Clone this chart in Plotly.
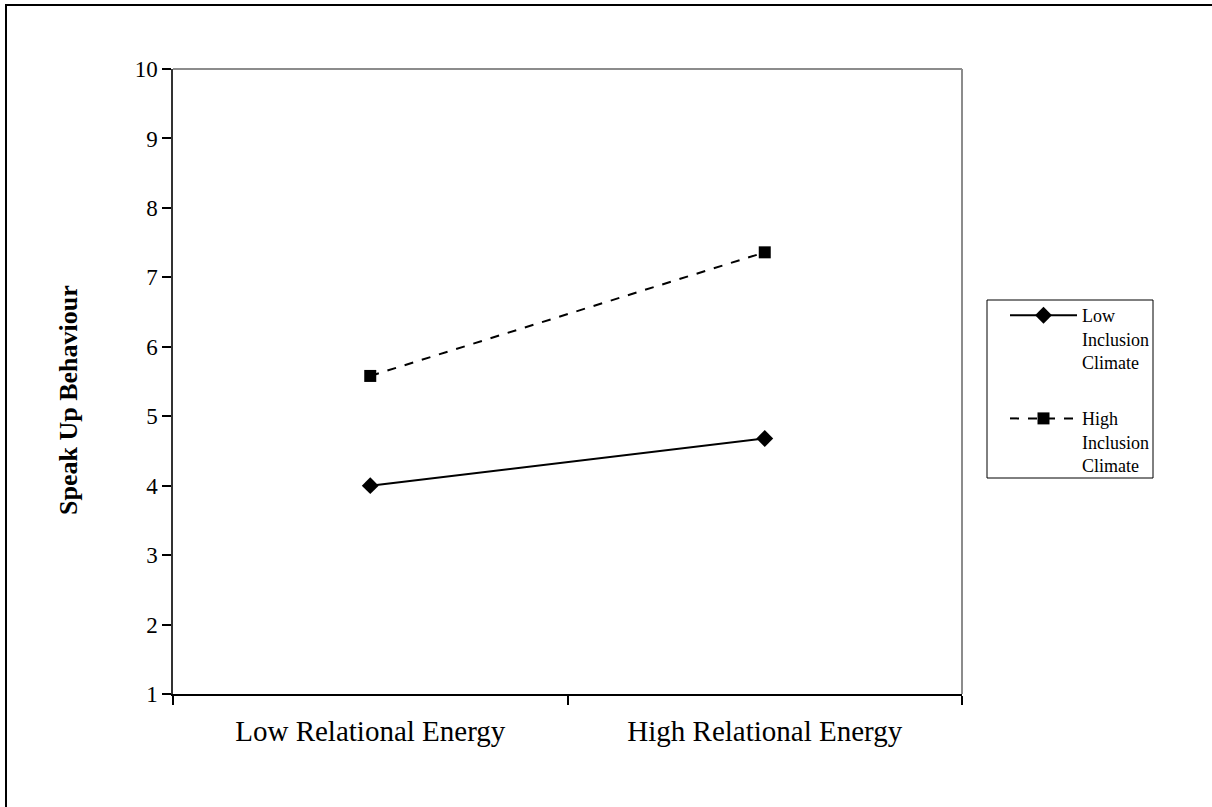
import plotly.graph_objects as go

categories = ["Low Relational Energy", "High Relational Energy"]
low_inclusion = [4.0, 4.68]
high_inclusion = [5.58, 7.36]
series_names = ["Low<br>Inclusion<br>Climate", "High<br>Inclusion<br>Climate"]
y_ticks = [1, 2, 3, 4, 5, 6, 7, 8, 9, 10]

FONT = "Liberation Serif, Times New Roman, serif"

fig = go.Figure()
fig.add_trace(go.Scatter(
    x=categories, y=low_inclusion, name=series_names[0], mode="lines+markers",
    legendgroup="a",
    line=dict(color="black", width=2, dash="solid"),
    marker=dict(symbol="diamond", size=13, color="black"),
))
fig.add_trace(go.Scatter(
    x=categories, y=high_inclusion, name=series_names[1], mode="lines+markers",
    legendgroup="b",
    line=dict(color="black", width=2, dash="dash"),
    marker=dict(symbol="square", size=12, color="black"),
))

W, H = 1212, 807
# page coordinates of the plot area
L, R, T, B = 173, 962, 69, 694
pw, ph = R - L, B - T

def px(x):
    return (x - L) / pw

def py(y):
    return (B - y) / ph

fig.update_layout(
    width=W, height=H,
    margin=dict(l=L, r=W - R, t=T, b=H - B, pad=0),
    paper_bgcolor="white", plot_bgcolor="white",
    font=dict(family=FONT, color="black", size=22),
    showlegend=True,
    legend=dict(
        x=px(1005), y=py(297), xanchor="left", yanchor="top",
        borderwidth=0, bgcolor="rgba(0,0,0,0)",
        font=dict(family=FONT, size=18, color="black"),
        tracegroupgap=30, itemwidth=67, valign="top",
    ),
    xaxis=dict(
        type="category", range=[-0.5, 1.5], showgrid=False, zeroline=False,
        showline=True, linecolor="black", linewidth=1.5,
        ticks="outside", tickson="boundaries", ticklen=9, tickcolor="black", tickwidth=1.5,
        tickfont=dict(family=FONT, size=29), ticklabelstandoff=10,
    ),
    yaxis=dict(
        range=[1, 10], tickvals=y_ticks, showgrid=False, zeroline=False,
        showline=True, linecolor="#333333", linewidth=1.5,
        ticks="outside", ticklen=9, tickcolor="black", tickwidth=1.5,
        tickfont=dict(family=FONT, size=23), ticklabelstandoff=0,
    ),
    shapes=[
        # top and right frame lines (grey)
        dict(type="line", xref="paper", yref="paper", x0=0, x1=1, y0=1, y1=1,
             line=dict(color="#8c8c8c", width=2)),
        dict(type="line", xref="paper", yref="paper", x0=1, x1=1, y0=0, y1=1,
             line=dict(color="#8c8c8c", width=2)),
        # outer border
        dict(type="rect", xref="paper", yref="paper",
             x0=px(6), x1=px(1216), y0=py(5), y1=py(812),
             line=dict(color="black", width=2), layer="below"),
        # legend box
        dict(type="rect", xref="paper", yref="paper",
             x0=px(987), x1=px(1153), y0=py(300), y1=py(478),
             line=dict(color="black", width=1)),
    ],
    annotations=[
        dict(text="<b>Speak Up Behaviour</b>", xref="paper", yref="paper",
             x=px(68), y=py(400), textangle=-90, showarrow=False,
             font=dict(family=FONT, size=26, color="black"),
             xanchor="center", yanchor="middle"),
    ],
)

fig.write_html(
    "out.html",
    config={"displayModeBar": False},
    post_script="document.body.style.margin='0';document.body.style.overflow='hidden';",
)
